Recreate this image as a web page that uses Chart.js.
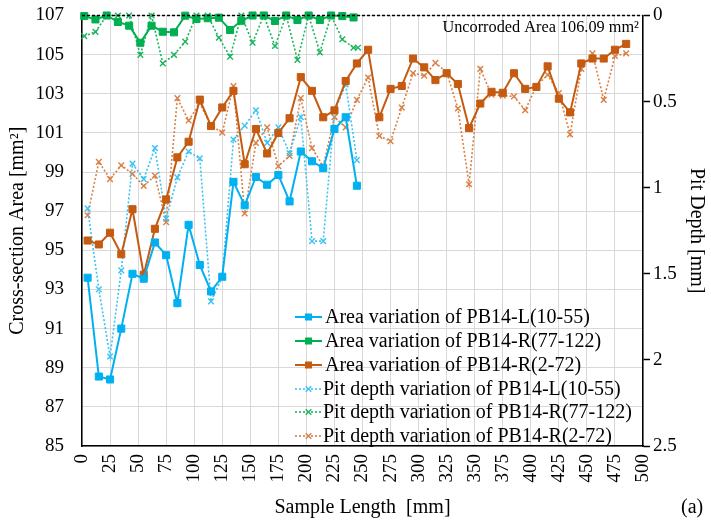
<!DOCTYPE html>
<html><head><meta charset="utf-8">
<script src="https://cdn.jsdelivr.net/npm/chart.js@4.4.0/dist/chart.umd.min.js"></script>
<style>html,body{margin:0;padding:0;background:#fff;}#wrap{width:711px;height:523px;}</style>
</head><body><div id="wrap"><canvas id="c" width="711" height="523"></canvas></div>
<script>
const xL = [5,15,25,35,45,55,65,75,85,95,105,115,125,135,145,155,165,175,185,195,205,215,225,235,245];
const areaL = [93.6,88.55,88.4,91.0,93.8,93.55,95.4,94.75,92.3,96.3,94.25,92.9,93.65,98.5,97.3,98.75,98.35,98.85,97.5,100.05,99.55,99.2,101.2,101.8,98.3];
const depthL = [1.12,1.59,1.98,1.48,0.86,0.95,0.77,1.18,0.94,0.79,0.83,1.66,1.52,0.72,0.64,0.55,0.74,0.65,0.80,0.59,1.31,1.31,0.56,0.40,0.84];

const xG = [2,12,22,32,42,52,62,72,82,92,102,112,122,132,142,152,162,172,182,192,202,212,222,232,242];
const areaG = [106.97,106.8,107.0,106.67,106.48,105.61,106.48,106.17,106.14,106.99,106.82,106.86,106.89,106.26,106.73,107.0,107.0,106.72,107.0,106.77,107.0,106.77,107.0,106.97,106.9];
const xGd = [2,12,22,32,42,52,62,72,82,92,102,112,122,132,142,152,162,172,182,192,202,212,222,232,242,246];
const depthG = [0.12,0.095,0,0,0,0.229,0,0.278,0.229,0.152,0,0,0.129,0.239,0,0.158,0,0.177,0,0.258,0,0.214,0,0.138,0.187,0.187];

const xR = [5,15,25,35,45,55,65,75,85,95,105,115,125,135,145,155,165,175,185,195,205,215,225,235,245,255,265,275,285,295,305,315,325,335,345,355,365,375,385,395,405,415,425,435,445,455,465,475,485];
const areaR = [95.5,95.3,95.9,94.8,97.1,93.75,96.1,97.6,99.75,100.55,102.7,101.35,102.3,103.15,99.4,101.2,99.95,101.0,101.75,103.85,103.15,101.8,102.15,103.65,104.55,105.25,101.8,103.25,103.4,104.8,104.35,103.7,104.05,103.5,101.25,102.5,103.1,103.05,104.05,103.25,103.35,104.4,102.75,102.05,104.55,104.8,104.8,105.25,105.55];
const depthR = [1.16,0.85,0.95,0.87,0.92,0.99,0.93,1.20,0.48,0.61,0.51,0.64,0.68,0.41,1.15,0.74,0.65,0.875,0.815,0.48,0.77,0.875,0.59,0.65,0.49,0.36,0.70,0.73,0.535,0.335,0.35,0.275,0.33,0.54,0.98,0.31,0.46,0.465,0.47,0.55,0.41,0.345,0.45,0.69,0.31,0.22,0.49,0.235,0.22];

const seriesNames = [
  'Area variation of PB14-L(10-55)',
  'Area variation of PB14-R(77-122)',
  'Area variation of PB14-R(2-72)',
  'Pit depth variation of PB14-L(10-55)',
  'Pit depth variation of PB14-R(77-122)',
  'Pit depth variation of PB14-R(2-72)'
];
const annotationText = 'Uncorroded Area 106.09 mm\u00B2';
const panelLabel = '(a)';

const FONT = "'Liberation Serif', 'Times New Roman', serif";
const pts = (xs, ys) => xs.map((x, i) => ({x: x, y: ys[i]}));

function areaDs(label, xs, ys, color) {
  return {label, data: pts(xs, ys), yAxisID: 'y', borderColor: color, backgroundColor: color,
    borderWidth: 2, pointStyle: 'rect', pointRadius: 5, pointHoverRadius: 5, pointBorderWidth: 1,
    pointBorderColor: color, pointBackgroundColor: color, tension: 0, clip: 10, isArea: true};
}
function depthDs(label, xs, ys, color) {
  return {label, data: pts(xs, ys), yAxisID: 'y2', borderColor: color, backgroundColor: color,
    borderWidth: 1.6, borderDash: [2, 2], pointStyle: 'crossRot', pointRadius: 4, pointHoverRadius: 4,
    pointBorderWidth: 1.4, pointBorderColor: color, tension: 0, clip: 10, isArea: false};
}

const overlay = {
  id: 'overlay',
  afterDatasetsDraw(chart) {
    const ctx = chart.ctx, a = chart.chartArea;
    ctx.save();
    ctx.strokeStyle = '#000'; ctx.lineWidth = 1.5; ctx.setLineDash([3, 2]);
    ctx.beginPath(); ctx.moveTo(a.left, a.top); ctx.lineTo(a.right, a.top); ctx.stroke();
    ctx.setLineDash([]);
    ctx.fillStyle = '#000'; ctx.font = '16.3px ' + FONT; ctx.textAlign = 'right'; ctx.textBaseline = 'middle';
    ctx.fillText(annotationText, a.right - 4, 28);
    ctx.font = '20px ' + FONT; ctx.textAlign = 'left';
    ctx.fillText(panelLabel, 681, 508);
    const ys = [317, 341, 365, 389, 412, 436];
    chart.data.datasets.forEach((ds, i) => {
      const y = ys[i], x0 = 295, x1 = 322, xm = (x0 + x1) / 2;
      ctx.strokeStyle = ds.borderColor; ctx.lineWidth = ds.borderWidth;
      ctx.setLineDash(ds.borderDash || []);
      ctx.beginPath(); ctx.moveTo(x0, y); ctx.lineTo(x1, y); ctx.stroke();
      ctx.setLineDash([]);
      if (ds.isArea) {
        ctx.fillStyle = ds.borderColor; ctx.fillRect(xm - 3.5, y - 3.5, 7, 7);
      } else {
        ctx.lineWidth = 1.4; const r = 2.8;
        ctx.beginPath(); ctx.moveTo(xm - r, y - r); ctx.lineTo(xm + r, y + r);
        ctx.moveTo(xm - r, y + r); ctx.lineTo(xm + r, y - r); ctx.stroke();
      }
      ctx.fillStyle = '#000'; ctx.font = '20px ' + FONT; ctx.textAlign = 'left'; ctx.textBaseline = 'middle';
      ctx.fillText(ds.label, ds.isArea ? 325 : 323, y + 1);
    });
    ctx.restore();
  }
};

const tickFont = {family: FONT, size: 19};
const titleFont = {family: FONT, size: 20};
new Chart(document.getElementById('c'), {
  type: 'line',
  data: {datasets: [
    areaDs(seriesNames[0], xL, areaL, '#00B0F0'),
    areaDs(seriesNames[1], xG, areaG, '#00B050'),
    areaDs(seriesNames[2], xR, areaR, '#C55A11'),
    depthDs(seriesNames[3], xL, depthL, '#3cc2f4'),
    depthDs(seriesNames[4], xGd, depthG, '#1db45e'),
    depthDs(seriesNames[5], xR, depthR, '#d98046')
  ]},
  options: {
    responsive: false, devicePixelRatio: 1, animation: false,
    layout: {padding: {top: 0, left: 0, right: 0, bottom: 0}},
    plugins: {legend: {display: false}, tooltip: {enabled: false}},
    scales: {
      x: {type: 'linear', min: 0, max: 500,
        ticks: {stepSize: 25, minRotation: 90, maxRotation: 90, font: tickFont, color: '#000', padding: 8},
        grid: {color: '#d9d9d9', lineWidth: 1, drawTicks: false},
        border: {color: '#000', width: 1.5},
        title: {display: true, text: 'Sample Length  [mm]', font: titleFont, color: '#000', padding: {top: 2, bottom: 3}},
        afterFit: s => { s.height = 77; }
      },
      y: {type: 'linear', position: 'left', min: 85, max: 107,
        ticks: {stepSize: 2, font: tickFont, color: '#000', padding: 18},
        grid: {color: '#d9d9d9', lineWidth: 1, drawTicks: false},
        border: {color: '#000', width: 1.5},
        title: {display: true, text: 'Cross-section Area [mm\u00B2]', font: titleFont, color: '#000', padding: {top: 6, bottom: 0}},
        afterFit: s => { s.width = 82; s.paddingTop = 15.5; s.paddingBottom = 0; }
      },
      y2: {type: 'linear', position: 'right', min: 0, max: 2.5, reverse: true,
        ticks: {stepSize: 0.5, font: tickFont, color: '#000', padding: 3, callback: v => String(v)},
        grid: {drawOnChartArea: false, color: '#000', tickLength: 7, tickWidth: 1.5},
        border: {color: '#000', width: 1.5},
        title: {display: true, text: 'Pit Depth [mm]', font: titleFont, color: '#000', padding: {top: 3, bottom: 0}},
        afterFit: s => { s.width = 68; s.paddingTop = 15.5; s.paddingBottom = 0; }
      }
    }
  },
  plugins: [overlay]
});
</script></body></html>
